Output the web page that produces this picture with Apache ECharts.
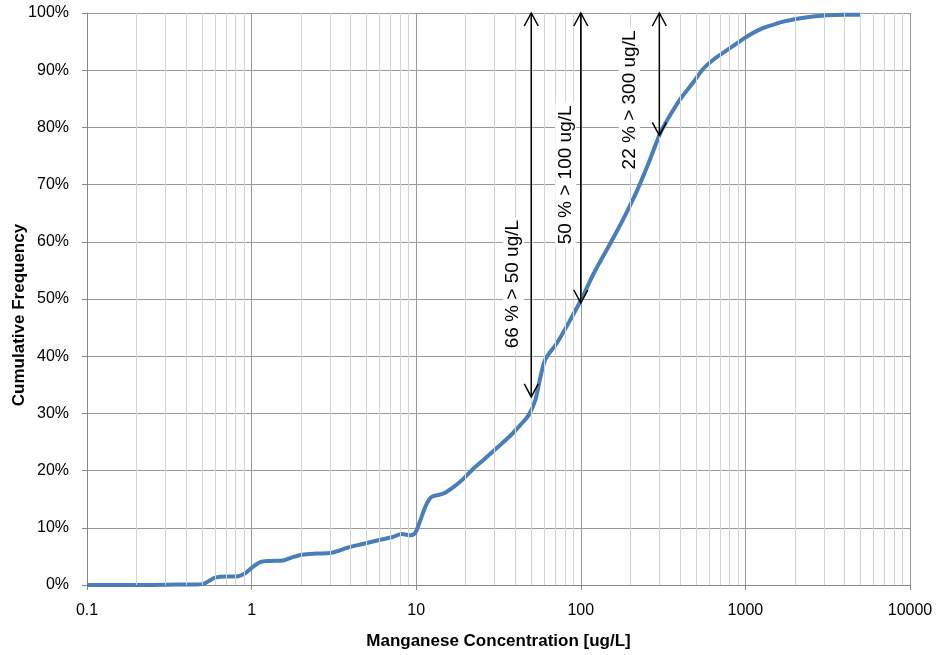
<!DOCTYPE html>
<html><head><meta charset="utf-8">
<script src="https://cdn.jsdelivr.net/npm/echarts@6/dist/echarts.min.js"></script>
<style>html,body{margin:0;padding:0;background:#fff}#c{width:938px;height:655px}</style>
</head><body><div id="c"></div>
<script>
// Concentration (ug/L) and cumulative frequency (%)
const concentration = [0.1,0.2,0.3,0.45,0.5,0.55,0.6,0.7,0.81,0.91,1.0,1.13,1.3,1.56,1.75,2.02,2.5,3.0,3.4,3.79,4.8,6.04,7.2,8.18,9.3,9.9,10.5,11.5,12.4,14.7,17,19.4,22,25.7,31,37.3,43,48.2,52.9,57,61,71.6,85,101,120,151,185,220,260,304,350,403,480,557,650,773,900,1023,1200,1353,1700,2157,3133,4000,5000];
const cumulativePct = [0,0,0.05,0.1,0.15,0.7,1.3,1.5,1.5,2.0,3.0,4.0,4.2,4.3,4.8,5.3,5.5,5.6,6.0,6.5,7.2,7.9,8.4,8.9,8.7,9.2,11.0,14.0,15.4,16.0,17.2,18.6,20.2,21.9,24.0,26.1,28.0,29.7,32.3,36.5,39.5,42.3,46.0,50.0,54.5,59.7,64.5,69.0,74.0,79.0,82.2,85.0,87.8,90.3,92.0,93.5,94.8,95.9,97.0,97.6,98.5,99.1,99.6,99.7,99.7];
// Annotations: threshold, arrow top (%), arrow bottom (%), label centre (%)
const annThreshold = [50, 100, 300];
const annTop = [100, 100, 100];
const annBottom = [32.9, 49.3, 78.6];
const annLabelY = [52.6, 71.7, 84.8];
const annText = ['66 % > 50 ug/L', '50 % > 100 ug/L', '22 % > 300 ug/L'];
const annOffset = [-18, -15, -30];
const xTicks = [0.1, 1, 10, 100, 1000, 10000];

const minorLines = [];
for (let k = 0; k < xTicks.length - 1; k++) {
  for (let m = 2; m <= 9; m++) minorLines.push({xAxis: +(xTicks[k] * m).toPrecision(6)});
}

const chart = echarts.init(document.getElementById('c'));
const F = 'Liberation Sans, Arial, sans-serif';
chart.setOption({
  animation: false,
  grid: {left: 87, right: 28, top: 13, bottom: 70, containLabel: false, outerBoundsMode: 'none'},
  xAxis: {
    type: 'log', logBase: 10, min: 0.1, max: 10000,
    name: 'Manganese Concentration [ug/L]', nameLocation: 'middle', nameGap: 48, nameMoveOverlap: false,
    nameTextStyle: {fontFamily: F, fontSize: 17, fontWeight: 'bold', color: '#000'},
    axisLine: {show: true, lineStyle: {color: '#888', width: 1}},
    axisTick: {show: true, length: 5, lineStyle: {color: '#888'}},
    axisLabel: {fontFamily: F, fontSize: 16, color: '#000', margin: 18,
      formatter: v => String(+v.toPrecision(6))},
    splitLine: {show: true, lineStyle: {color: '#9a9a9a', width: 1}}
  },
  yAxis: {
    type: 'value', min: 0, max: 100, interval: 10,
    name: 'Cumulative Frequency', nameLocation: 'middle', nameGap: 59, nameMoveOverlap: false,
    nameTextStyle: {fontFamily: F, fontSize: 17, fontWeight: 'bold', color: '#000', padding: [0, 32, 0, 0]},
    axisLine: {show: true, lineStyle: {color: '#888', width: 1}},
    axisTick: {show: true, length: 5, lineStyle: {color: '#888'}},
    axisLabel: {fontFamily: F, fontSize: 16, color: '#000', margin: 18, formatter: '{value}%'},
    splitLine: {show: true, lineStyle: {color: '#9a9a9a', width: 1}}
  },
  series: [
    {
      type: 'line', data: [], silent: true, z: 1,
      markLine: {silent: true, symbol: 'none', label: {show: false},
        lineStyle: {color: '#d4d4d4', width: 1, type: 'solid'}, data: minorLines}
    },
    {
      type: 'line', z: 3,
      data: concentration.map((c, i) => [c, cumulativePct[i]]),
      smooth: 0.3, showSymbol: false, symbol: 'none',
      lineStyle: {color: '#4a7ebb', width: 4}
    },
    {
      type: 'custom', z: 5, silent: true,
      data: annThreshold.map((t, i) => [t, annTop[i], annBottom[i], annLabelY[i]]),
      renderItem: function (params, api) {
        const i = params.dataIndex;
        const top = api.coord([api.value(0), api.value(1)]);
        const bot = api.coord([api.value(0), api.value(2)]);
        const lab = api.coord([api.value(0), api.value(3)]);
        const s = {stroke: '#000', lineWidth: 1.5, fill: null};
        return {type: 'group', children: [
          {type: 'text', x: lab[0] + annOffset[i], y: lab[1], rotation: Math.PI / 2,
           style: {text: annText[i], font: '19px ' + F, fill: '#000', align: 'center',
             verticalAlign: 'middle', backgroundColor: '#fff', padding: [1, 3]}},
          {type: 'line', shape: {x1: top[0], y1: top[1], x2: bot[0], y2: bot[1]}, style: s},
          {type: 'polyline', shape: {points: [[top[0] - 7, top[1] + 13], [top[0], top[1]], [top[0] + 7, top[1] + 13]]}, style: s},
          {type: 'polyline', shape: {points: [[bot[0] - 7, bot[1] - 13], [bot[0], bot[1]], [bot[0] + 7, bot[1] - 13]]}, style: s}
        ]};
      }
    }
  ]
});
</script></body></html>
